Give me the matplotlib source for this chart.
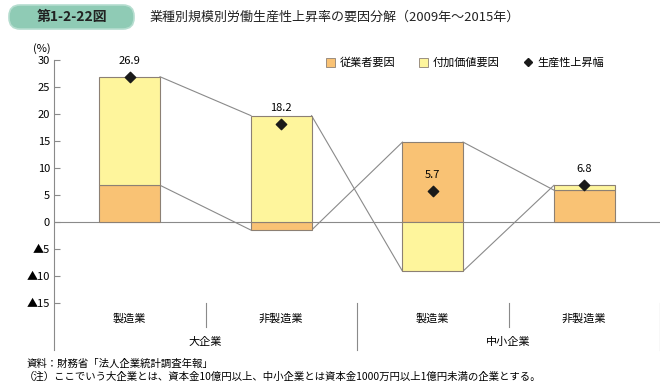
import matplotlib.pyplot as plt
import matplotlib.transforms as mtransforms
from matplotlib.patches import FancyBboxPatch, Patch
from matplotlib.lines import Line2D
import numpy as np

plt.rcParams['font.family'] = ['Noto Sans CJK JP', 'DejaVu Sans']

# データ
industries = ['製造業', '非製造業', '製造業', '非製造業']
groups = ['大企業', '中小企業']
employee = [6.8, -1.5, 14.8, 5.9]      # 従業者要因
value_added = [20.1, 19.7, -9.1, 0.9]  # 付加価値要因
productivity = [26.9, 18.2, 5.7, 6.8]  # 生産性上昇幅
yticks = [30, 25, 20, 15, 10, 5, 0, -5, -10, -15]
yticklabels = ['30', '25', '20', '15', '10', '5', '0', '▲5', '▲10', '▲15']

c_emp = '#F9C274'
c_va = '#FEF59C'
c_edge = '#8C8074'
c_line = '#8A8A8A'

fig = plt.figure(figsize=(6.6, 3.82), dpi=100)
ax = fig.add_axes([54 / 660, 1 - 350 / 382, 606 / 660, 290 / 382])

x = np.arange(len(industries))
w = 0.4
emp = np.array(employee)
va = np.array(value_added)

# 積み上げ（正は正に、負は負に積む）
va_bottom = np.where(np.sign(va) == np.sign(emp), emp, 0)
ax.bar(x, emp, w, color=c_emp, edgecolor=c_edge, linewidth=0.8, zorder=2)
ax.bar(x, va, w, bottom=va_bottom, color=c_va, edgecolor=c_edge, linewidth=0.8, zorder=2)

# 区分線
ends = [emp, va_bottom + va]
for e in ends:
    for i in range(len(x) - 1):
        ax.plot([x[i] + w / 2, x[i + 1] - w / 2], [e[i], e[i + 1]],
                color=c_line, lw=0.8, zorder=1)

ax.axhline(0, color=c_line, lw=0.8, zorder=1.5)

ax.scatter(x, productivity, marker='D', s=28, color='#1a1a1a', zorder=3)
for xi, p in zip(x, productivity):
    ax.annotate(f'{p}', (xi, p), xytext=(0, 8), textcoords='offset points',
                ha='center', va='bottom', fontsize=8)

ax.set_xlim(-0.5, 3.5)
ax.set_ylim(-23.7, 30)
ax.set_yticks(yticks)
ax.set_yticklabels(yticklabels)
ax.set_xticks([])
ax.tick_params(axis='y', direction='in', length=4, width=0.8, color=c_line,
               labelsize=8, pad=3)
for s in ['top', 'right', 'bottom']:
    ax.spines[s].set_visible(False)
ax.spines['left'].set_color(c_line)
ax.spines['left'].set_linewidth(0.8)

trans = mtransforms.blended_transform_factory(ax.transData, ax.transAxes)
for xi, name in zip(x, industries):
    ax.text(xi, 0.11, name, transform=trans, ha='center', va='center', fontsize=8)
for xc, g in zip([0.5, 2.5], groups):
    ax.text(xc, 0.028, g, transform=trans, ha='center', va='center', fontsize=8)
for xd in [0.5, 2.5]:
    ax.plot([xd, xd], [0.079, 0.162], transform=trans, color=c_line, lw=0.8, clip_on=False)
for xd in [1.5, 3.5]:
    ax.plot([xd, xd], [0.0, 0.162], transform=trans, color=c_line, lw=0.8, clip_on=False)

ax.text(-0.52, 1.02, '(%)', transform=trans, ha='right', va='bottom', fontsize=8)

# 凡例
handles = [Patch(facecolor=c_emp, edgecolor=c_edge, linewidth=0.6),
           Patch(facecolor=c_va, edgecolor=c_edge, linewidth=0.6),
           Line2D([], [], marker='D', color='#1a1a1a', linestyle='none', markersize=4)]
leg = ax.legend(handles, ['従業者要因', '付加価値要因', '生産性上昇幅'], ncol=3,
                loc='center', frameon=False, fontsize=8,
                handlelength=0.8, handleheight=0.8, handletextpad=0.4, columnspacing=2.2)
leg.set_bbox_to_anchor((465 / 660, 1 - 63 / 382), transform=fig.transFigure)

# タイトル（ピクセル座標のオーバーレイ）
tax = fig.add_axes([0, 0, 1, 1], zorder=-1)
tax.set_xlim(0, 660)
tax.set_ylim(382, 0)
tax.axis('off')
box = FancyBboxPatch((9, 5), 125, 24, boxstyle='round,pad=0,rounding_size=11',
                     facecolor='#8FCBB5', edgecolor='#B5DDCF', linewidth=1.2)
tax.add_patch(box)
tax.text(72, 17, '第1-2-22図', ha='center', va='center',
         fontsize=10, fontweight='bold', color='#222222')
tax.text(150, 17, '業種別規模別労働生産性上昇率の要因分解（2009年～2015年）',
         ha='left', va='center', fontsize=9.4, color='#222222')

tax.text(27, 364, '資料：財務省「法人企業統計調査年報」',
         ha='left', va='center', fontsize=7.5)
tax.text(24, 377,
         '（注）ここでいう大企業とは、資本金10億円以上、中小企業とは資本金1000万円以上1億円未満の企業とする。',
         ha='left', va='center', fontsize=7.5)

plt.savefig('out.png', dpi=100)
